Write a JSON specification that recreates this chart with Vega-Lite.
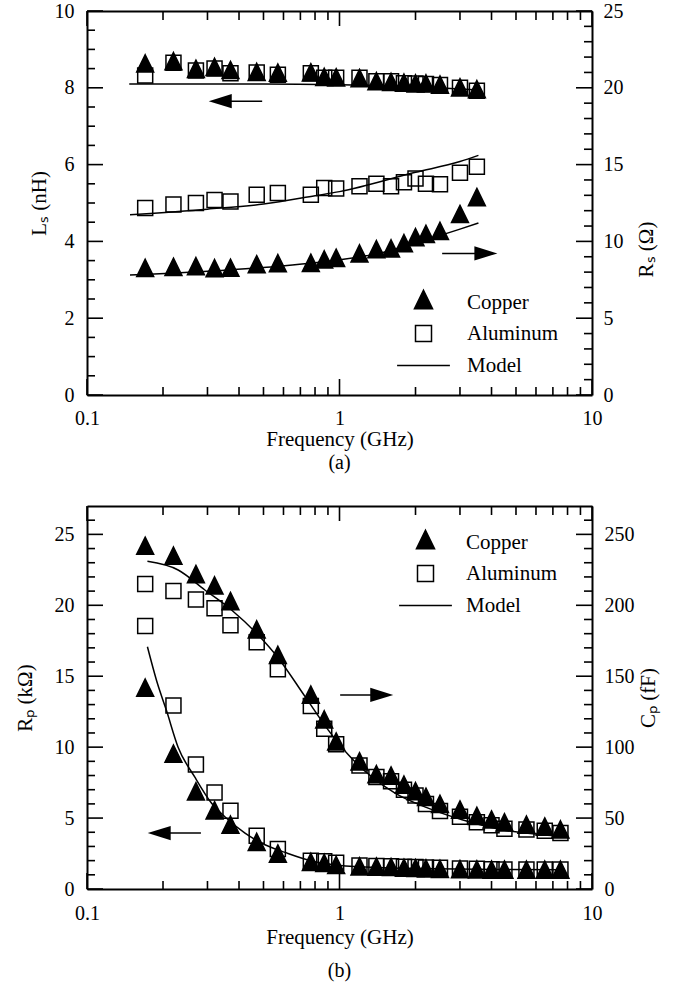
{
  "$schema": "https://vega.github.io/schema/vega-lite/v6.json",
  "padding": {"left": 14, "top": 1, "right": 5, "bottom": 5},
  "background": "white",
  "config": {
    "font": "Liberation Serif",
    "view": {"stroke": null},
    "axis": {"labelFont": "Liberation Serif", "titleFont": "Liberation Serif", "labelFontSize": 20, "titleFontSize": 21, "titleFontWeight": "normal", "labelColor": "black", "titleColor": "black", "domainColor": "black", "domainWidth": 2, "grid": false, "labelFlush": false, "labelOverlap": false, "ticks": false, "tickSize": 0},
    "title": {"font": "Liberation Serif", "fontSize": 20, "fontWeight": "normal", "color": "black"}
  },
  "datasets": {
    "aXM": [{"t":0.1,"lo":0,"hi":10},{"t":1,"lo":0,"hi":10},{"t":10,"lo":0,"hi":10}],
    "aXm": [{"t":0.2,"lo":0,"hi":10},{"t":0.3,"lo":0,"hi":10},{"t":0.4,"lo":0,"hi":10},{"t":0.5,"lo":0,"hi":10},{"t":0.6,"lo":0,"hi":10},{"t":0.7,"lo":0,"hi":10},{"t":0.8,"lo":0,"hi":10},{"t":0.9,"lo":0,"hi":10},{"t":2,"lo":0,"hi":10},{"t":3,"lo":0,"hi":10},{"t":4,"lo":0,"hi":10},{"t":5,"lo":0,"hi":10},{"t":6,"lo":0,"hi":10},{"t":7,"lo":0,"hi":10},{"t":8,"lo":0,"hi":10},{"t":9,"lo":0,"hi":10}],
    "bXM": [{"t":0.1,"lo":0,"hi":27},{"t":1,"lo":0,"hi":27},{"t":10,"lo":0,"hi":27}],
    "bXm": [{"t":0.2,"lo":0,"hi":27},{"t":0.3,"lo":0,"hi":27},{"t":0.4,"lo":0,"hi":27},{"t":0.5,"lo":0,"hi":27},{"t":0.6,"lo":0,"hi":27},{"t":0.7,"lo":0,"hi":27},{"t":0.8,"lo":0,"hi":27},{"t":0.9,"lo":0,"hi":27},{"t":2,"lo":0,"hi":27},{"t":3,"lo":0,"hi":27},{"t":4,"lo":0,"hi":27},{"t":5,"lo":0,"hi":27},{"t":6,"lo":0,"hi":27},{"t":7,"lo":0,"hi":27},{"t":8,"lo":0,"hi":27},{"t":9,"lo":0,"hi":27}],
    "aYLM": [{"t":0,"x":0.1},{"t":2,"x":0.1},{"t":4,"x":0.1},{"t":6,"x":0.1},{"t":8,"x":0.1},{"t":10,"x":0.1}],
    "aYLm": [{"t":0.5,"x":0.1},{"t":1,"x":0.1},{"t":1.5,"x":0.1},{"t":2.5,"x":0.1},{"t":3,"x":0.1},{"t":3.5,"x":0.1},{"t":4.5,"x":0.1},{"t":5,"x":0.1},{"t":5.5,"x":0.1},{"t":6.5,"x":0.1},{"t":7,"x":0.1},{"t":7.5,"x":0.1},{"t":8.5,"x":0.1},{"t":9,"x":0.1},{"t":9.5,"x":0.1}],
    "aYRM": [{"t":0,"x":10},{"t":5,"x":10},{"t":10,"x":10},{"t":15,"x":10},{"t":20,"x":10},{"t":25,"x":10}],
    "aYRm": [{"t":1,"x":10},{"t":2,"x":10},{"t":3,"x":10},{"t":4,"x":10},{"t":6,"x":10},{"t":7,"x":10},{"t":8,"x":10},{"t":9,"x":10},{"t":11,"x":10},{"t":12,"x":10},{"t":13,"x":10},{"t":14,"x":10},{"t":16,"x":10},{"t":17,"x":10},{"t":18,"x":10},{"t":19,"x":10},{"t":21,"x":10},{"t":22,"x":10},{"t":23,"x":10},{"t":24,"x":10}],
    "bYLM": [{"t":0,"x":0.1},{"t":5,"x":0.1},{"t":10,"x":0.1},{"t":15,"x":0.1},{"t":20,"x":0.1},{"t":25,"x":0.1}],
    "bYLm": [{"t":1,"x":0.1},{"t":2,"x":0.1},{"t":3,"x":0.1},{"t":4,"x":0.1},{"t":6,"x":0.1},{"t":7,"x":0.1},{"t":8,"x":0.1},{"t":9,"x":0.1},{"t":11,"x":0.1},{"t":12,"x":0.1},{"t":13,"x":0.1},{"t":14,"x":0.1},{"t":16,"x":0.1},{"t":17,"x":0.1},{"t":18,"x":0.1},{"t":19,"x":0.1},{"t":21,"x":0.1},{"t":22,"x":0.1},{"t":23,"x":0.1},{"t":24,"x":0.1},{"t":26,"x":0.1}],
    "bYRM": [{"t":0,"x":10},{"t":50,"x":10},{"t":100,"x":10},{"t":150,"x":10},{"t":200,"x":10},{"t":250,"x":10}],
    "bYRm": [{"t":10,"x":10},{"t":20,"x":10},{"t":30,"x":10},{"t":40,"x":10},{"t":60,"x":10},{"t":70,"x":10},{"t":80,"x":10},{"t":90,"x":10},{"t":110,"x":10},{"t":120,"x":10},{"t":130,"x":10},{"t":140,"x":10},{"t":160,"x":10},{"t":170,"x":10},{"t":180,"x":10},{"t":190,"x":10},{"t":210,"x":10},{"t":220,"x":10},{"t":230,"x":10},{"t":240,"x":10},{"t":260,"x":10}],
    "aLp": [
      {"s":"Aluminum","f":0.17,"v":8.32},{"s":"Aluminum","f":0.22,"v":8.65},{"s":"Aluminum","f":0.27,"v":8.45},{"s":"Aluminum","f":0.32,"v":8.5},{"s":"Aluminum","f":0.37,"v":8.38},{"s":"Aluminum","f":0.47,"v":8.4},{"s":"Aluminum","f":0.57,"v":8.34},{"s":"Aluminum","f":0.77,"v":8.38},{"s":"Aluminum","f":0.87,"v":8.26},{"s":"Aluminum","f":0.97,"v":8.26},{"s":"Aluminum","f":1.2,"v":8.26},{"s":"Aluminum","f":1.4,"v":8.17},{"s":"Aluminum","f":1.6,"v":8.17},{"s":"Aluminum","f":1.8,"v":8.12},{"s":"Aluminum","f":2.0,"v":8.11},{"s":"Aluminum","f":2.2,"v":8.1},{"s":"Aluminum","f":2.5,"v":8.07},{"s":"Aluminum","f":3.0,"v":8.0},{"s":"Aluminum","f":3.5,"v":7.92},
      {"s":"Copper","f":0.17,"v":8.56},{"s":"Copper","f":0.22,"v":8.62},{"s":"Copper","f":0.27,"v":8.42},{"s":"Copper","f":0.32,"v":8.47},{"s":"Copper","f":0.37,"v":8.39},{"s":"Copper","f":0.47,"v":8.34},{"s":"Copper","f":0.57,"v":8.32},{"s":"Copper","f":0.77,"v":8.33},{"s":"Copper","f":0.87,"v":8.21},{"s":"Copper","f":0.97,"v":8.2},{"s":"Copper","f":1.2,"v":8.18},{"s":"Copper","f":1.4,"v":8.1},{"s":"Copper","f":1.6,"v":8.08},{"s":"Copper","f":1.8,"v":8.06},{"s":"Copper","f":2.0,"v":8.04},{"s":"Copper","f":2.2,"v":8.04},{"s":"Copper","f":2.5,"v":8.01},{"s":"Copper","f":3.0,"v":7.94},{"s":"Copper","f":3.5,"v":7.89}
    ],
    "aRp": [
      {"s":"Aluminum","f":0.17,"v":12.17},{"s":"Aluminum","f":0.22,"v":12.4},{"s":"Aluminum","f":0.27,"v":12.5},{"s":"Aluminum","f":0.32,"v":12.7},{"s":"Aluminum","f":0.37,"v":12.6},{"s":"Aluminum","f":0.47,"v":13.04},{"s":"Aluminum","f":0.57,"v":13.15},{"s":"Aluminum","f":0.77,"v":13.04},{"s":"Aluminum","f":0.87,"v":13.48},{"s":"Aluminum","f":0.97,"v":13.45},{"s":"Aluminum","f":1.2,"v":13.59},{"s":"Aluminum","f":1.4,"v":13.76},{"s":"Aluminum","f":1.6,"v":13.59},{"s":"Aluminum","f":1.8,"v":13.85},{"s":"Aluminum","f":2.0,"v":14.1},{"s":"Aluminum","f":2.2,"v":13.76},{"s":"Aluminum","f":2.5,"v":13.72},{"s":"Aluminum","f":3.0,"v":14.47},{"s":"Aluminum","f":3.5,"v":14.86},
      {"s":"Copper","f":0.17,"v":8.09},{"s":"Copper","f":0.22,"v":8.16},{"s":"Copper","f":0.27,"v":8.2},{"s":"Copper","f":0.32,"v":8.07},{"s":"Copper","f":0.37,"v":8.1},{"s":"Copper","f":0.47,"v":8.33},{"s":"Copper","f":0.57,"v":8.4},{"s":"Copper","f":0.77,"v":8.42},{"s":"Copper","f":0.87,"v":8.64},{"s":"Copper","f":0.97,"v":8.75},{"s":"Copper","f":1.2,"v":9.03},{"s":"Copper","f":1.4,"v":9.31},{"s":"Copper","f":1.6,"v":9.36},{"s":"Copper","f":1.8,"v":9.7},{"s":"Copper","f":2.0,"v":10.09},{"s":"Copper","f":2.2,"v":10.3},{"s":"Copper","f":2.5,"v":10.5},{"s":"Copper","f":3.0,"v":11.6},{"s":"Copper","f":3.5,"v":12.7}
    ],
    "aLm": [{"s":"m","f":0.147,"v":8.1},{"s":"m","f":0.5,"v":8.1},{"s":"m","f":1.0,"v":8.08},{"s":"m","f":2.0,"v":8.03},{"s":"m","f":3.6,"v":7.94}],
    "aRm": [
      {"s":"Al","f":0.148,"v":11.74},{"s":"Al","f":0.3,"v":12.1},{"s":"Al","f":0.5,"v":12.43},{"s":"Al","f":0.8,"v":12.97},{"s":"Al","f":1.0,"v":13.24},{"s":"Al","f":2.0,"v":14.5},{"s":"Al","f":3.0,"v":15.2},{"s":"Al","f":3.55,"v":15.6},
      {"s":"Cu","f":0.148,"v":7.81},{"s":"Cu","f":0.3,"v":8.05},{"s":"Cu","f":0.5,"v":8.3},{"s":"Cu","f":1.0,"v":8.8},{"s":"Cu","f":1.5,"v":9.3},{"s":"Cu","f":2.0,"v":9.9},{"s":"Cu","f":3.0,"v":10.8},{"s":"Cu","f":3.55,"v":11.2}
    ],
    "aLa": [{"f":0.337,"v":7.65},{"f":0.494,"v":7.65}],
    "aLh": [{"f":0.337,"v":7.65}],
    "aRa": [{"f":2.55,"v":9.22},{"f":3.8,"v":9.22}],
    "aRh": [{"f":3.8,"v":9.22}],
    "bLp": [
      {"s":"Aluminum","f":0.17,"v":18.54},{"s":"Aluminum","f":0.22,"v":12.93},{"s":"Aluminum","f":0.27,"v":8.78},{"s":"Aluminum","f":0.32,"v":6.81},{"s":"Aluminum","f":0.37,"v":5.51},{"s":"Aluminum","f":0.47,"v":3.75},{"s":"Aluminum","f":0.57,"v":2.82},{"s":"Aluminum","f":0.77,"v":1.99},{"s":"Aluminum","f":0.87,"v":1.95},{"s":"Aluminum","f":0.97,"v":1.85},{"s":"Aluminum","f":1.2,"v":1.65},{"s":"Aluminum","f":1.4,"v":1.62},{"s":"Aluminum","f":1.6,"v":1.6},{"s":"Aluminum","f":1.8,"v":1.57},{"s":"Aluminum","f":2.0,"v":1.55},{"s":"Aluminum","f":2.2,"v":1.52},{"s":"Aluminum","f":2.5,"v":1.5},{"s":"Aluminum","f":3.0,"v":1.45},{"s":"Aluminum","f":3.5,"v":1.42},{"s":"Aluminum","f":4.0,"v":1.4},{"s":"Aluminum","f":4.5,"v":1.38},{"s":"Aluminum","f":5.5,"v":1.37},{"s":"Aluminum","f":6.5,"v":1.37},{"s":"Aluminum","f":7.5,"v":1.38},
      {"s":"Copper","f":0.17,"v":13.99},{"s":"Copper","f":0.22,"v":9.34},{"s":"Copper","f":0.27,"v":6.69},{"s":"Copper","f":0.32,"v":5.35},{"s":"Copper","f":0.37,"v":4.34},{"s":"Copper","f":0.47,"v":3.12},{"s":"Copper","f":0.57,"v":2.3},{"s":"Copper","f":0.77,"v":1.71},{"s":"Copper","f":0.87,"v":1.64},{"s":"Copper","f":0.97,"v":1.5},{"s":"Copper","f":1.2,"v":1.4},{"s":"Copper","f":1.4,"v":1.38},{"s":"Copper","f":1.6,"v":1.35},{"s":"Copper","f":1.8,"v":1.3},{"s":"Copper","f":2.0,"v":1.28},{"s":"Copper","f":2.2,"v":1.25},{"s":"Copper","f":2.5,"v":1.22},{"s":"Copper","f":3.0,"v":1.2},{"s":"Copper","f":3.5,"v":1.18},{"s":"Copper","f":4.0,"v":1.17},{"s":"Copper","f":4.5,"v":1.17},{"s":"Copper","f":5.5,"v":1.16},{"s":"Copper","f":6.5,"v":1.16},{"s":"Copper","f":7.5,"v":1.16}
    ],
    "bRp": [
      {"s":"Aluminum","f":0.17,"v":215},{"s":"Aluminum","f":0.22,"v":210},{"s":"Aluminum","f":0.27,"v":204},{"s":"Aluminum","f":0.32,"v":198},{"s":"Aluminum","f":0.37,"v":186},{"s":"Aluminum","f":0.47,"v":174},{"s":"Aluminum","f":0.57,"v":155},{"s":"Aluminum","f":0.77,"v":129},{"s":"Aluminum","f":0.87,"v":113},{"s":"Aluminum","f":0.97,"v":102},{"s":"Aluminum","f":1.2,"v":87},{"s":"Aluminum","f":1.4,"v":79},{"s":"Aluminum","f":1.6,"v":76},{"s":"Aluminum","f":1.8,"v":70},{"s":"Aluminum","f":2.0,"v":66},{"s":"Aluminum","f":2.2,"v":60},{"s":"Aluminum","f":2.5,"v":55},{"s":"Aluminum","f":3.0,"v":51},{"s":"Aluminum","f":3.5,"v":47},{"s":"Aluminum","f":4.0,"v":45},{"s":"Aluminum","f":4.5,"v":42.5},{"s":"Aluminum","f":5.5,"v":42},{"s":"Aluminum","f":6.5,"v":41},{"s":"Aluminum","f":7.5,"v":39.4},
      {"s":"Copper","f":0.17,"v":240},{"s":"Copper","f":0.22,"v":233},{"s":"Copper","f":0.27,"v":220},{"s":"Copper","f":0.32,"v":212},{"s":"Copper","f":0.37,"v":201},{"s":"Copper","f":0.47,"v":181},{"s":"Copper","f":0.57,"v":163},{"s":"Copper","f":0.77,"v":135},{"s":"Copper","f":0.87,"v":117.6},{"s":"Copper","f":0.97,"v":102},{"s":"Copper","f":1.2,"v":88},{"s":"Copper","f":1.4,"v":79},{"s":"Copper","f":1.6,"v":78},{"s":"Copper","f":1.8,"v":71.6},{"s":"Copper","f":2.0,"v":67},{"s":"Copper","f":2.2,"v":63},{"s":"Copper","f":2.5,"v":58},{"s":"Copper","f":3.0,"v":54},{"s":"Copper","f":3.5,"v":49.5},{"s":"Copper","f":4.0,"v":47},{"s":"Copper","f":4.5,"v":45},{"s":"Copper","f":5.5,"v":43.4},{"s":"Copper","f":6.5,"v":42},{"s":"Copper","f":7.5,"v":40}
    ],
    "bLm": [{"s":"m","f":0.1735,"v":17.08},{"s":"m","f":0.19,"v":14.5},{"s":"m","f":0.206,"v":12.63},{"s":"m","f":0.2295,"v":10.0},{"s":"m","f":0.267,"v":7.9},{"s":"m","f":0.311,"v":6.06},{"s":"m","f":0.3626,"v":4.88},{"s":"m","f":0.4224,"v":3.94},{"s":"m","f":0.5069,"v":3.12},{"s":"m","f":0.609,"v":2.58},{"s":"m","f":0.776,"v":1.98},{"s":"m","f":0.989,"v":1.68},{"s":"m","f":1.5,"v":1.5},{"s":"m","f":2.0,"v":1.45},{"s":"m","f":4.0,"v":1.38},{"s":"m","f":7.6,"v":1.35}],
    "bRm": [{"s":"m","f":0.1735,"v":231},{"s":"m","f":0.2296,"v":224.9},{"s":"m","f":0.2929,"v":210.8},{"s":"m","f":0.3737,"v":196.7},{"s":"m","f":0.4765,"v":179},{"s":"m","f":0.5726,"v":162.7},{"s":"m","f":0.7308,"v":135.6},{"s":"m","f":0.9014,"v":112.2},{"s":"m","f":1.084,"v":94.6},{"s":"m","f":1.66,"v":67.6},{"s":"m","f":2.244,"v":57},{"s":"m","f":3.06,"v":48.8},{"s":"m","f":4.39,"v":41.8},{"s":"m","f":7.8,"v":37}],
    "bLa": [{"f":0.1932,"v":3.94},{"f":0.2826,"v":3.94}],
    "bLh": [{"f":0.1932,"v":3.94}],
    "bRa": [{"f":1.006,"v":136.8},{"f":1.47,"v":136.8}],
    "bRh": [{"f":1.47,"v":136.8}]
  },
  "bounds": "flush",
  "spacing": 111,
  "resolve": {"scale": {"shape": "independent", "fill": "independent"}, "legend": {"shape": "independent", "fill": "independent"}},
  "vconcat": [
    {
      "width": 505, "height": 384,
      "title": {"text": "(a)", "orient": "bottom", "offset": 4, "frame": "group", "anchor": "middle"},
      "layer": [
        {"data": {"name": "aLp"},
         "mark": {"type": "point", "size": 225, "opacity": 1, "filled": true, "stroke": "black", "strokeWidth": 1.5},
         "encoding": {
           "x": {"field": "f", "type": "quantitative", "scale": {"type": "log", "domain": [0.1, 10], "nice": false},
                 "axis": {"orient": "bottom", "values": [0.1, 1, 10], "format": "~g", "ticks": false, "tickSize": 0, "labelPadding": 13, "title": "Frequency (GHz)", "titlePadding": 0, "domain": true}},
           "y": {"field": "v", "type": "quantitative", "scale": {"domain": [0, 10], "nice": false},
                 "axis": {"orient": "left", "values": [0, 2, 4, 6, 8, 10], "ticks": false, "tickSize": 0, "labelPadding": 13, "title": "Lₛ (nH)", "titlePadding": 5, "domain": true}},
           "shape": {"field": "s", "type": "nominal", "scale": {"domain": ["Copper", "Aluminum", "Model"], "range": ["M0,-1.53L1.13,0.77L-1.13,0.77Z", "square", "M-3.3,0L3.3,0"]},
                     "legend": {"orient": "none", "legendX": 326, "legendY": 281, "title": null, "padding": 0, "rowPadding": 9, "labelFont": "Liberation Serif", "labelFontSize": 21, "labelColor": "black", "labelOffset": 33, "symbolSize": 256, "symbolOpacity": 1, "labelLimit": 300, "encode": {"symbols": {"update": {"stroke": {"value": "black"}, "strokeWidth": {"value": 1.5}}}}}},
           "fill": {"field": "s", "type": "nominal", "scale": {"domain": ["Copper", "Aluminum", "Model"], "range": ["black", "transparent", "transparent"]},
                    "legend": {"orient": "none", "legendX": 326, "legendY": 281, "title": null, "padding": 0, "rowPadding": 9, "labelFont": "Liberation Serif", "labelFontSize": 21, "labelColor": "black", "labelOffset": 33, "symbolSize": 256, "symbolOpacity": 1, "labelLimit": 300, "encode": {"symbols": {"update": {"stroke": {"value": "black"}, "strokeWidth": {"value": 1.5}}}}}}
         }},
        {"data": {"name": "aXM"},
         "mark": {"type": "point", "shape": "M0,0L0,-2", "size": 256, "filled": false, "color": "black", "strokeWidth": 1.6, "opacity": 1},
         "encoding": {
           "x": {"field": "t", "type": "quantitative", "scale": {"type": "log", "domain": [0.1, 10], "nice": false}, "axis": null},
           "y": {"field": "lo", "type": "quantitative", "scale": {"domain": [0, 10], "nice": false}, "axis": null}
         }},
        {"data": {"name": "aXm"},
         "mark": {"type": "point", "shape": "M0,0L0,-1", "size": 256, "filled": false, "color": "black", "strokeWidth": 1.6, "opacity": 1},
         "encoding": {
           "x": {"field": "t", "type": "quantitative", "scale": {"type": "log", "domain": [0.1, 10], "nice": false}, "axis": null},
           "y": {"field": "lo", "type": "quantitative", "scale": {"domain": [0, 10], "nice": false}, "axis": null}
         }},
        {"data": {"name": "aXM"},
         "mark": {"type": "point", "shape": "M0,0L0,1.875", "size": 256, "filled": false, "color": "black", "strokeWidth": 1.6, "opacity": 1},
         "encoding": {
           "x": {"field": "t", "type": "quantitative", "scale": {"type": "log", "domain": [0.1, 10], "nice": false}, "axis": null},
           "y": {"field": "hi", "type": "quantitative", "scale": {"domain": [0, 10], "nice": false}, "axis": null}
         }},
        {"data": {"name": "aXm"},
         "mark": {"type": "point", "shape": "M0,0L0,1.125", "size": 256, "filled": false, "color": "black", "strokeWidth": 1.6, "opacity": 1},
         "encoding": {
           "x": {"field": "t", "type": "quantitative", "scale": {"type": "log", "domain": [0.1, 10], "nice": false}, "axis": null},
           "y": {"field": "hi", "type": "quantitative", "scale": {"domain": [0, 10], "nice": false}, "axis": null}
         }},
        {"data": {"name": "aYLM"},
         "mark": {"type": "point", "shape": "M0,0L2,0", "size": 256, "filled": false, "color": "black", "strokeWidth": 1.6, "opacity": 1},
         "encoding": {
           "x": {"field": "x", "type": "quantitative", "scale": {"type": "log", "domain": [0.1, 10], "nice": false}, "axis": null},
           "y": {"field": "t", "type": "quantitative", "scale": {"domain": [0, 10], "nice": false}, "axis": null}
         }},
        {"data": {"name": "aYLm"},
         "mark": {"type": "point", "shape": "M0,0L1,0", "size": 256, "filled": false, "color": "black", "strokeWidth": 1.6, "opacity": 1},
         "encoding": {
           "x": {"field": "x", "type": "quantitative", "scale": {"type": "log", "domain": [0.1, 10], "nice": false}, "axis": null},
           "y": {"field": "t", "type": "quantitative", "scale": {"domain": [0, 10], "nice": false}, "axis": null}
         }},
        {"data": {"name": "aYRM"},
         "mark": {"type": "point", "shape": "M0,0L-2,0", "size": 256, "filled": false, "color": "black", "strokeWidth": 1.6, "opacity": 1},
         "encoding": {
           "x": {"field": "x", "type": "quantitative", "scale": {"type": "log", "domain": [0.1, 10], "nice": false}, "axis": null},
           "y": {"field": "t", "type": "quantitative", "scale": {"domain": [0, 25], "nice": false}, "axis": null}
         }},
        {"data": {"name": "aYRm"},
         "mark": {"type": "point", "shape": "M0,0L-1,0", "size": 256, "filled": false, "color": "black", "strokeWidth": 1.6, "opacity": 1},
         "encoding": {
           "x": {"field": "x", "type": "quantitative", "scale": {"type": "log", "domain": [0.1, 10], "nice": false}, "axis": null},
           "y": {"field": "t", "type": "quantitative", "scale": {"domain": [0, 25], "nice": false}, "axis": null}
         }},
        {"data": {"name": "aLm"},
         "mark": {"type": "line", "color": "black", "strokeWidth": 1.5, "interpolate": "monotone"},
         "encoding": {
           "x": {"field": "f", "type": "quantitative", "scale": {"type": "log", "domain": [0.1, 10], "nice": false}, "axis": null},
           "y": {"field": "v", "type": "quantitative", "scale": {"domain": [0, 10], "nice": false}, "axis": null},
           "detail": {"field": "s", "type": "nominal"}
         }},
        {"data": {"name": "aLa"},
         "mark": {"type": "line", "color": "black", "strokeWidth": 1.5},
         "encoding": {
           "x": {"field": "f", "type": "quantitative", "scale": {"type": "log", "domain": [0.1, 10], "nice": false},
                 "axis": {"orient": "top", "values": [0.1, 1, 10], "ticks": false, "labels": false, "title": null, "domain": true}},
           "y": {"field": "v", "type": "quantitative", "scale": {"domain": [0, 10], "nice": false}, "axis": null}
         }},
        {"data": {"name": "aLh"},
         "mark": {"type": "point", "shape": "M-1,0L1,-0.62L1,0.62Z", "size": 529, "filled": true, "color": "black", "opacity": 1},
         "encoding": {
           "x": {"field": "f", "type": "quantitative", "scale": {"type": "log", "domain": [0.1, 10], "nice": false}, "axis": null},
           "y": {"field": "v", "type": "quantitative", "scale": {"domain": [0, 10], "nice": false}, "axis": null}
         }},
        {"data": {"name": "aRp"},
         "mark": {"type": "point", "size": 225, "opacity": 1, "filled": true, "stroke": "black", "strokeWidth": 1.5},
         "encoding": {
           "x": {"field": "f", "type": "quantitative", "scale": {"type": "log", "domain": [0.1, 10], "nice": false}, "axis": null},
           "y": {"field": "v", "type": "quantitative", "scale": {"domain": [0, 25], "nice": false},
                 "axis": {"orient": "right", "values": [0, 5, 10, 15, 20, 25], "ticks": false, "tickSize": 0, "labelPadding": 11, "title": "Rₛ (Ω)", "titleAngle": 270, "titleBaseline": "top", "titlePadding": 12, "titleY": 238, "domain": true}},
           "shape": {"field": "s", "type": "nominal", "scale": {"domain": ["Copper", "Aluminum", "Model"], "range": ["M0,-1.53L1.13,0.77L-1.13,0.77Z", "square", "M-3.3,0L3.3,0"]},
                     "legend": {"orient": "none", "legendX": 326, "legendY": 281, "title": null, "padding": 0, "rowPadding": 9, "labelFont": "Liberation Serif", "labelFontSize": 21, "labelColor": "black", "labelOffset": 33, "symbolSize": 256, "symbolOpacity": 1, "labelLimit": 300, "encode": {"symbols": {"update": {"stroke": {"value": "black"}, "strokeWidth": {"value": 1.5}}}}}},
           "fill": {"field": "s", "type": "nominal", "scale": {"domain": ["Copper", "Aluminum", "Model"], "range": ["black", "transparent", "transparent"]},
                    "legend": {"orient": "none", "legendX": 326, "legendY": 281, "title": null, "padding": 0, "rowPadding": 9, "labelFont": "Liberation Serif", "labelFontSize": 21, "labelColor": "black", "labelOffset": 33, "symbolSize": 256, "symbolOpacity": 1, "labelLimit": 300, "encode": {"symbols": {"update": {"stroke": {"value": "black"}, "strokeWidth": {"value": 1.5}}}}}}
         }},
        {"data": {"name": "aRm"},
         "mark": {"type": "line", "color": "black", "strokeWidth": 1.5, "interpolate": "monotone"},
         "encoding": {
           "x": {"field": "f", "type": "quantitative", "scale": {"type": "log", "domain": [0.1, 10], "nice": false}, "axis": null},
           "y": {"field": "v", "type": "quantitative", "scale": {"domain": [0, 25], "nice": false}, "axis": null},
           "detail": {"field": "s", "type": "nominal"}
         }},
        {"data": {"name": "aRa"},
         "mark": {"type": "line", "color": "black", "strokeWidth": 1.5},
         "encoding": {
           "x": {"field": "f", "type": "quantitative", "scale": {"type": "log", "domain": [0.1, 10], "nice": false}, "axis": null},
           "y": {"field": "v", "type": "quantitative", "scale": {"domain": [0, 25], "nice": false}, "axis": null}
         }},
        {"data": {"name": "aRh"},
         "mark": {"type": "point", "shape": "M1,0L-1,-0.62L-1,0.62Z", "size": 529, "filled": true, "color": "black", "opacity": 1},
         "encoding": {
           "x": {"field": "f", "type": "quantitative", "scale": {"type": "log", "domain": [0.1, 10], "nice": false}, "axis": null},
           "y": {"field": "v", "type": "quantitative", "scale": {"domain": [0, 25], "nice": false}, "axis": null}
         }}
      ],
      "resolve": {"scale": {"y": "independent"}, "axis": {"x": "independent", "y": "independent"}}
    },
    {
      "width": 505, "height": 383,
      "title": {"text": "(b)", "orient": "bottom", "offset": 14, "frame": "group", "anchor": "middle"},
      "layer": [
        {"data": {"name": "bLp"},
         "mark": {"type": "point", "size": 225, "opacity": 1, "filled": true, "stroke": "black", "strokeWidth": 1.5},
         "encoding": {
           "x": {"field": "f", "type": "quantitative", "scale": {"type": "log", "domain": [0.1, 10], "nice": false},
                 "axis": {"orient": "bottom", "values": [0.1, 1, 10], "format": "~g", "ticks": false, "tickSize": 0, "labelPadding": 14, "title": "Frequency (GHz)", "titlePadding": 3, "domain": true}},
           "y": {"field": "v", "type": "quantitative", "scale": {"domain": [0, 27], "nice": false},
                 "axis": {"orient": "left", "values": [0, 5, 10, 15, 20, 25], "ticks": false, "tickSize": 0, "labelPadding": 13, "title": "Rₚ (kΩ)", "titlePadding": 19, "domain": true}},
           "shape": {"field": "s", "type": "nominal", "scale": {"domain": ["Copper", "Aluminum", "Model"], "range": ["M0,-1.53L1.13,0.77L-1.13,0.77Z", "square", "M-3.3,0L3.3,0"]},
                     "legend": {"orient": "none", "legendX": 328, "legendY": 26, "title": null, "padding": 0, "rowPadding": 9, "labelFont": "Liberation Serif", "labelFontSize": 21, "labelColor": "black", "labelOffset": 30, "symbolSize": 256, "symbolOpacity": 1, "labelLimit": 300, "encode": {"symbols": {"update": {"stroke": {"value": "black"}, "strokeWidth": {"value": 1.5}}}}}},
           "fill": {"field": "s", "type": "nominal", "scale": {"domain": ["Copper", "Aluminum", "Model"], "range": ["black", "transparent", "transparent"]},
                    "legend": {"orient": "none", "legendX": 328, "legendY": 26, "title": null, "padding": 0, "rowPadding": 9, "labelFont": "Liberation Serif", "labelFontSize": 21, "labelColor": "black", "labelOffset": 30, "symbolSize": 256, "symbolOpacity": 1, "labelLimit": 300, "encode": {"symbols": {"update": {"stroke": {"value": "black"}, "strokeWidth": {"value": 1.5}}}}}}
         }},
        {"data": {"name": "bXM"},
         "mark": {"type": "point", "shape": "M0,0L0,-2", "size": 256, "filled": false, "color": "black", "strokeWidth": 1.6, "opacity": 1},
         "encoding": {
           "x": {"field": "t", "type": "quantitative", "scale": {"type": "log", "domain": [0.1, 10], "nice": false}, "axis": null},
           "y": {"field": "lo", "type": "quantitative", "scale": {"domain": [0, 27], "nice": false}, "axis": null}
         }},
        {"data": {"name": "bXm"},
         "mark": {"type": "point", "shape": "M0,0L0,-1", "size": 256, "filled": false, "color": "black", "strokeWidth": 1.6, "opacity": 1},
         "encoding": {
           "x": {"field": "t", "type": "quantitative", "scale": {"type": "log", "domain": [0.1, 10], "nice": false}, "axis": null},
           "y": {"field": "lo", "type": "quantitative", "scale": {"domain": [0, 27], "nice": false}, "axis": null}
         }},
        {"data": {"name": "bXM"},
         "mark": {"type": "point", "shape": "M0,0L0,1.875", "size": 256, "filled": false, "color": "black", "strokeWidth": 1.6, "opacity": 1},
         "encoding": {
           "x": {"field": "t", "type": "quantitative", "scale": {"type": "log", "domain": [0.1, 10], "nice": false}, "axis": null},
           "y": {"field": "hi", "type": "quantitative", "scale": {"domain": [0, 27], "nice": false}, "axis": null}
         }},
        {"data": {"name": "bXm"},
         "mark": {"type": "point", "shape": "M0,0L0,1.125", "size": 256, "filled": false, "color": "black", "strokeWidth": 1.6, "opacity": 1},
         "encoding": {
           "x": {"field": "t", "type": "quantitative", "scale": {"type": "log", "domain": [0.1, 10], "nice": false}, "axis": null},
           "y": {"field": "hi", "type": "quantitative", "scale": {"domain": [0, 27], "nice": false}, "axis": null}
         }},
        {"data": {"name": "bYLM"},
         "mark": {"type": "point", "shape": "M0,0L2,0", "size": 256, "filled": false, "color": "black", "strokeWidth": 1.6, "opacity": 1},
         "encoding": {
           "x": {"field": "x", "type": "quantitative", "scale": {"type": "log", "domain": [0.1, 10], "nice": false}, "axis": null},
           "y": {"field": "t", "type": "quantitative", "scale": {"domain": [0, 27], "nice": false}, "axis": null}
         }},
        {"data": {"name": "bYLm"},
         "mark": {"type": "point", "shape": "M0,0L1,0", "size": 256, "filled": false, "color": "black", "strokeWidth": 1.6, "opacity": 1},
         "encoding": {
           "x": {"field": "x", "type": "quantitative", "scale": {"type": "log", "domain": [0.1, 10], "nice": false}, "axis": null},
           "y": {"field": "t", "type": "quantitative", "scale": {"domain": [0, 27], "nice": false}, "axis": null}
         }},
        {"data": {"name": "bYRM"},
         "mark": {"type": "point", "shape": "M0,0L-2,0", "size": 256, "filled": false, "color": "black", "strokeWidth": 1.6, "opacity": 1},
         "encoding": {
           "x": {"field": "x", "type": "quantitative", "scale": {"type": "log", "domain": [0.1, 10], "nice": false}, "axis": null},
           "y": {"field": "t", "type": "quantitative", "scale": {"domain": [0, 270], "nice": false}, "axis": null}
         }},
        {"data": {"name": "bYRm"},
         "mark": {"type": "point", "shape": "M0,0L-1,0", "size": 256, "filled": false, "color": "black", "strokeWidth": 1.6, "opacity": 1},
         "encoding": {
           "x": {"field": "x", "type": "quantitative", "scale": {"type": "log", "domain": [0.1, 10], "nice": false}, "axis": null},
           "y": {"field": "t", "type": "quantitative", "scale": {"domain": [0, 270], "nice": false}, "axis": null}
         }},
        {"data": {"name": "bLm"},
         "mark": {"type": "line", "color": "black", "strokeWidth": 1.5, "interpolate": "monotone"},
         "encoding": {
           "x": {"field": "f", "type": "quantitative", "scale": {"type": "log", "domain": [0.1, 10], "nice": false}, "axis": null},
           "y": {"field": "v", "type": "quantitative", "scale": {"domain": [0, 27], "nice": false}, "axis": null},
           "detail": {"field": "s", "type": "nominal"}
         }},
        {"data": {"name": "bLa"},
         "mark": {"type": "line", "color": "black", "strokeWidth": 1.5},
         "encoding": {
           "x": {"field": "f", "type": "quantitative", "scale": {"type": "log", "domain": [0.1, 10], "nice": false},
                 "axis": {"orient": "top", "values": [0.1, 1, 10], "ticks": false, "labels": false, "title": null, "domain": true}},
           "y": {"field": "v", "type": "quantitative", "scale": {"domain": [0, 27], "nice": false}, "axis": null}
         }},
        {"data": {"name": "bLh"},
         "mark": {"type": "point", "shape": "M-1,0L1,-0.62L1,0.62Z", "size": 529, "filled": true, "color": "black", "opacity": 1},
         "encoding": {
           "x": {"field": "f", "type": "quantitative", "scale": {"type": "log", "domain": [0.1, 10], "nice": false}, "axis": null},
           "y": {"field": "v", "type": "quantitative", "scale": {"domain": [0, 27], "nice": false}, "axis": null}
         }},
        {"data": {"name": "bRp"},
         "mark": {"type": "point", "size": 225, "opacity": 1, "filled": true, "stroke": "black", "strokeWidth": 1.5},
         "encoding": {
           "x": {"field": "f", "type": "quantitative", "scale": {"type": "log", "domain": [0.1, 10], "nice": false}, "axis": null},
           "y": {"field": "v", "type": "quantitative", "scale": {"domain": [0, 270], "nice": false},
                 "axis": {"orient": "right", "values": [0, 50, 100, 150, 200, 250], "ticks": false, "tickSize": 0, "labelPadding": 12, "title": "Cₚ (fF)", "titleAngle": 270, "titleBaseline": "top", "titlePadding": 3, "domain": true}},
           "shape": {"field": "s", "type": "nominal", "scale": {"domain": ["Copper", "Aluminum", "Model"], "range": ["M0,-1.53L1.13,0.77L-1.13,0.77Z", "square", "M-3.3,0L3.3,0"]},
                     "legend": {"orient": "none", "legendX": 328, "legendY": 26, "title": null, "padding": 0, "rowPadding": 9, "labelFont": "Liberation Serif", "labelFontSize": 21, "labelColor": "black", "labelOffset": 30, "symbolSize": 256, "symbolOpacity": 1, "labelLimit": 300, "encode": {"symbols": {"update": {"stroke": {"value": "black"}, "strokeWidth": {"value": 1.5}}}}}},
           "fill": {"field": "s", "type": "nominal", "scale": {"domain": ["Copper", "Aluminum", "Model"], "range": ["black", "transparent", "transparent"]},
                    "legend": {"orient": "none", "legendX": 328, "legendY": 26, "title": null, "padding": 0, "rowPadding": 9, "labelFont": "Liberation Serif", "labelFontSize": 21, "labelColor": "black", "labelOffset": 30, "symbolSize": 256, "symbolOpacity": 1, "labelLimit": 300, "encode": {"symbols": {"update": {"stroke": {"value": "black"}, "strokeWidth": {"value": 1.5}}}}}}
         }},
        {"data": {"name": "bRm"},
         "mark": {"type": "line", "color": "black", "strokeWidth": 1.5, "interpolate": "monotone"},
         "encoding": {
           "x": {"field": "f", "type": "quantitative", "scale": {"type": "log", "domain": [0.1, 10], "nice": false}, "axis": null},
           "y": {"field": "v", "type": "quantitative", "scale": {"domain": [0, 270], "nice": false}, "axis": null},
           "detail": {"field": "s", "type": "nominal"}
         }},
        {"data": {"name": "bRa"},
         "mark": {"type": "line", "color": "black", "strokeWidth": 1.5},
         "encoding": {
           "x": {"field": "f", "type": "quantitative", "scale": {"type": "log", "domain": [0.1, 10], "nice": false}, "axis": null},
           "y": {"field": "v", "type": "quantitative", "scale": {"domain": [0, 270], "nice": false}, "axis": null}
         }},
        {"data": {"name": "bRh"},
         "mark": {"type": "point", "shape": "M1,0L-1,-0.62L-1,0.62Z", "size": 529, "filled": true, "color": "black", "opacity": 1},
         "encoding": {
           "x": {"field": "f", "type": "quantitative", "scale": {"type": "log", "domain": [0.1, 10], "nice": false}, "axis": null},
           "y": {"field": "v", "type": "quantitative", "scale": {"domain": [0, 270], "nice": false}, "axis": null}
         }}
      ],
      "resolve": {"scale": {"y": "independent"}, "axis": {"x": "independent", "y": "independent"}}
    }
  ]
}
